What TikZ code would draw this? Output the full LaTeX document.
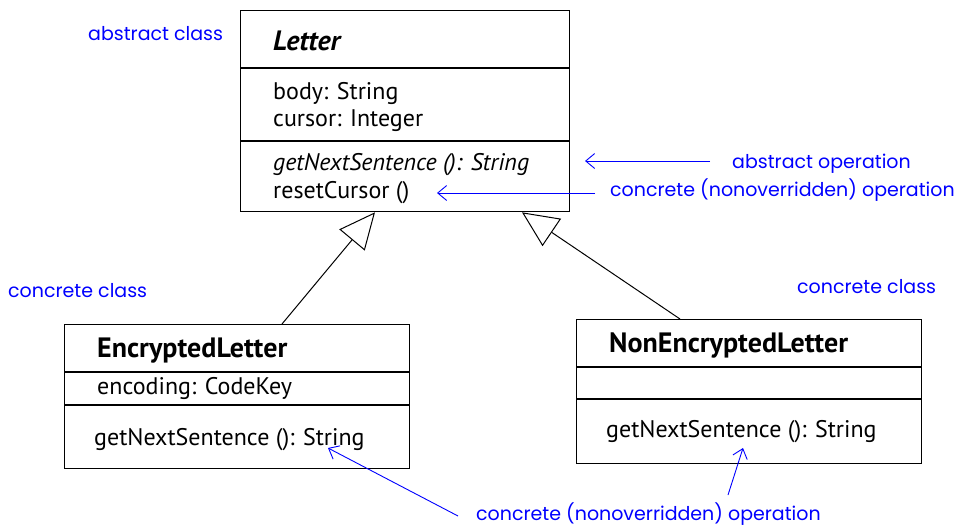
\documentclass[tikz,border=0pt]{standalone}
\usepackage{fontspec}
\setmainfont{PT Sans}
\newfontfamily\bluefont{Poppins}
\usetikzlibrary{arrows.meta}
\begin{document}
\begin{tikzpicture}[x=1pt,y=-1pt,
 classbox/.style={draw, line width=1.3pt, inner sep=0pt, anchor=north west},
 divider/.style={line width=1.3pt},
 cltext/.style={anchor=base west, inner sep=0pt, font=\fontsize{24}{28}\selectfont},
 clname/.style={anchor=base west, inner sep=0pt, font=\fontsize{28}{32}\selectfont\bfseries},
 note/.style={anchor=base west, inner sep=0pt, text=blue, font=\bluefont\fontsize{19}{22}\selectfont},
 inherit/.style={line width=1pt, -{Triangle[open, length=36pt, width=33pt, line width=1pt]}},
 pointer/.style={blue, line width=0.9pt, -{Straight Barb[length=9pt, width=15pt, line width=0.9pt]}}]
\useasboundingbox (0,0) rectangle (967,525);

% Letter
\node[classbox, minimum width=329pt, minimum height=201pt] (letter) at (240,10) {};
\draw[divider] (letter.west |- 0,68) -- (letter.east |- 0,68);
\draw[divider] (letter.west |- 0,141) -- (letter.east |- 0,141);
\node[clname, font=\fontsize{28}{32}\selectfont\bfseries\itshape] (lname) at (273,50) {Letter};
\node[cltext] (lattr1) at (273,99) {body: String};
\node[cltext] (lattr2) at (273,126) {cursor: Integer};
\node[cltext, font=\fontsize{24}{28}\selectfont\itshape] (lop1) at (273,170) {getNextSentence (): String};
\node[cltext] (lop2) at (273,198) {resetCursor ()};

% EncryptedLetter
\node[classbox, minimum width=345pt, minimum height=144pt] (enc) at (64,324) {};
\draw[divider] (enc.west |- 0,372) -- (enc.east |- 0,372);
\draw[divider] (enc.west |- 0,405) -- (enc.east |- 0,405);
\node[clname] (ename) at (97,357) {EncryptedLetter};
\node[cltext] (eattr) at (97,394) {encoding: CodeKey};
\node[cltext] (eop) at (94,445) {getNextSentence (): String};

% NonEncryptedLetter
\node[classbox, minimum width=345pt, minimum height=144pt] (nenc) at (576,319) {};
\draw[divider] (nenc.west |- 0,367) -- (nenc.east |- 0,367);
\draw[divider] (nenc.west |- 0,399) -- (nenc.east |- 0,399);
\node[clname] (nname) at (609,352) {NonEncryptedLetter};
\node[cltext] (nop) at (606,437) {getNextSentence (): String};

% generalizations
\coordinate (encTop) at (enc.north -| 282,0);
\coordinate (letTipA) at (letter.south -| 375,0);
\coordinate (nencTop) at (nenc.north -| 680,0);
\coordinate (letTipB) at (letter.south -| 522,0);
\draw[inherit] (encTop) -- (letTipA);
\draw[inherit] (nencTop) -- (letTipB);

% notes
\node[note] (nabsclass) at (88,40) {abstract class};
\node[note] (nconcL) at (8,297) {concrete class};
\node[note] (nconcR) at (797,293) {concrete class};
\node[note] (nabsop) at (732,168) {abstract operation};
\node[note] (nconcop) at (610,196) {concrete (nonoverridden) operation};
\node[note] (nconcop2) at (476,520) {concrete (nonoverridden) operation};

\coordinate (p1s) at (710,161);
\coordinate (p1e) at (585,161);
\coordinate (p2s) at (595,193);
\coordinate (p2e) at (437,193);
\coordinate (p3s) at (458,516);
\coordinate (p3e) at (328,448);
\coordinate (p4s) at (728,495);
\coordinate (p4e) at (743,448);
\draw[pointer] (p1s) -- (p1e);
\draw[pointer] (p2s) -- (p2e);
\draw[pointer] (p3s) -- (p3e);
\draw[pointer] (p4s) -- (p4e);
\end{tikzpicture}
\end{document}
